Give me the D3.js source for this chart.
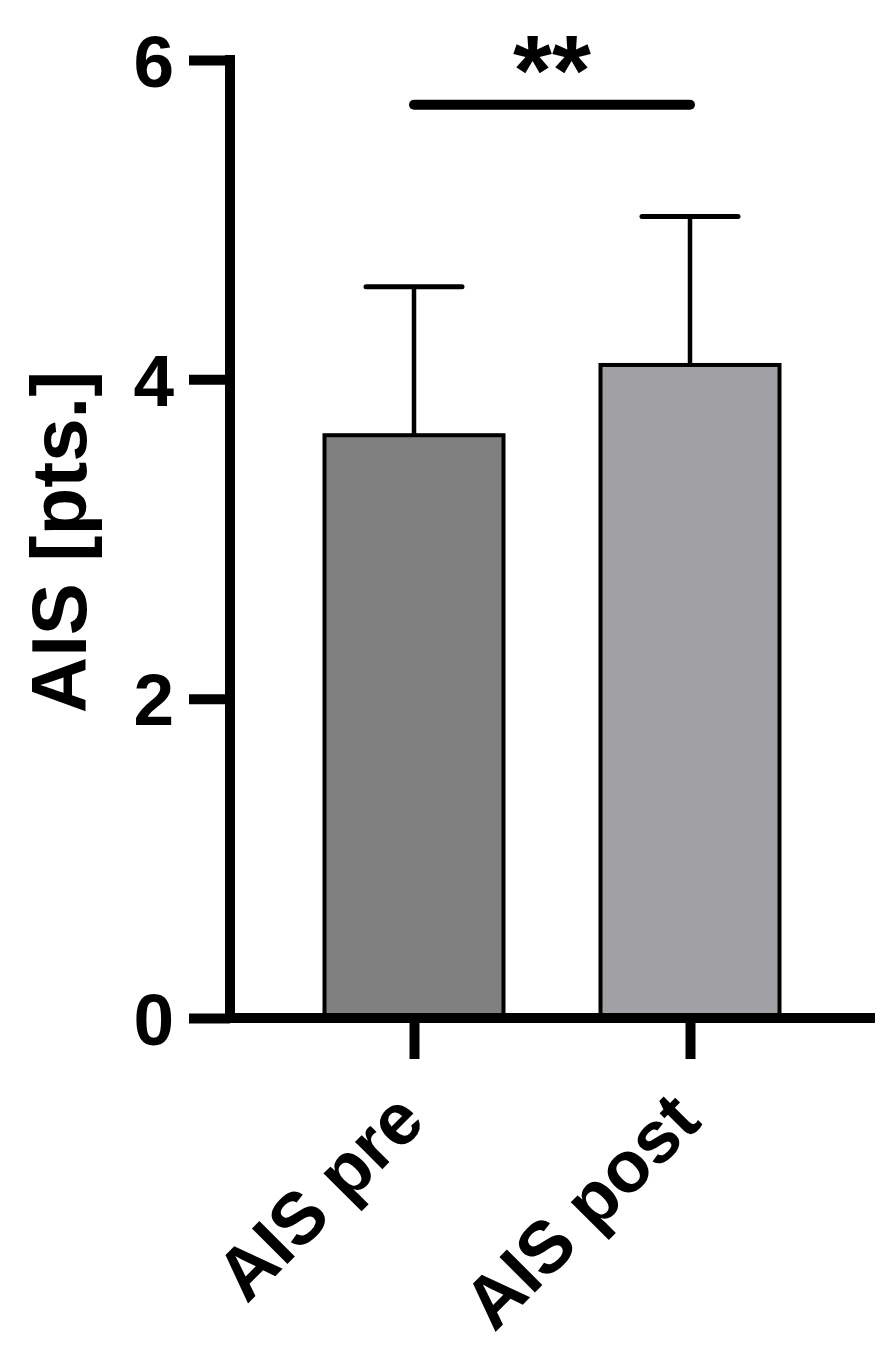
<!DOCTYPE html>
<html>
<head>
<meta charset="utf-8">
<script src="https://cdn.jsdelivr.net/npm/d3@7"></script>
<style>
  html, body { margin: 0; padding: 0; background: #fff; }
  svg text { font-family: "Liberation Sans", Arial, Helvetica, sans-serif; font-weight: bold; fill: #000; }
</style>
</head>
<body>
<svg id="chart" width="893" height="1353"></svg>
<script>
// ---- data ----
const categories = ["AIS pre", "AIS post"];
const means = [3.65, 4.09];
const sds = [0.93, 0.93];
const barColors = ["#808080", "#a1a0a5"];
const yTicks = [0, 2, 4, 6];
const yLabel = "AIS [pts.]";
const sigLevel = 5.72;
const sigText = "**";

// ---- layout ----
const svg = d3.select("#chart");
const axisX = 230, y0 = 1018, yTop = 60;
const y = d3.scaleLinear().domain([0, 6]).range([y0, yTop]);
const x = d3.scalePoint().domain(categories).range([414, 690]);
const barW = 183, capW = 96;
const AXW = 10;

// bars
const g = svg.append("g");
g.selectAll("rect.bar").data(categories).join("rect")
  .attr("class", "bar")
  .attr("x", d => x(d) - barW / 2 + 2)
  .attr("width", barW - 4)
  .attr("y", (d, i) => y(means[i]))
  .attr("height", (d, i) => y(0) - y(means[i]))
  .attr("fill", (d, i) => barColors[i])
  .attr("stroke", "#000")
  .attr("stroke-width", 4);

// error bars (upper only)
g.selectAll("line.err").data(categories).join("line")
  .attr("x1", d => x(d)).attr("x2", d => x(d))
  .attr("y1", (d, i) => y(means[i]))
  .attr("y2", (d, i) => y(means[i] + sds[i]))
  .attr("stroke", "#000").attr("stroke-width", 4.5);
g.selectAll("line.cap").data(categories).join("line")
  .attr("x1", d => x(d) - capW / 2).attr("x2", d => x(d) + capW / 2)
  .attr("y1", (d, i) => y(means[i] + sds[i]))
  .attr("y2", (d, i) => y(means[i] + sds[i]))
  .attr("stroke", "#000").attr("stroke-width", 5).attr("stroke-linecap", "round");

// y axis
const yAxis = d3.axisLeft(y).tickValues(yTicks).tickFormat(d3.format("d"))
  .tickSize(41).tickSizeOuter(0).tickPadding(15);
const gy = svg.append("g").attr("transform", `translate(${axisX},0)`).call(yAxis);
gy.select(".domain").remove();
gy.selectAll(".tick line").attr("stroke", "#000").attr("stroke-width", AXW);
gy.selectAll(".tick text").attr("font-size", 73).attr("dy", "0.36em");
gy.append("line").attr("x1", 0).attr("x2", 0)
  .attr("y1", yTop - AXW / 2).attr("y2", y0 + AXW / 2)
  .attr("stroke", "#000").attr("stroke-width", AXW);

// x axis
const xAxis = d3.axisBottom(x).tickSize(41).tickSizeOuter(0).tickPadding(0);
const gx = svg.append("g").attr("transform", `translate(0,${y0})`).call(xAxis);
gx.select(".domain").remove();
gx.append("line").attr("x1", axisX).attr("x2", 875).attr("y1", 0).attr("y2", 0)
  .attr("stroke", "#000").attr("stroke-width", AXW);
gx.selectAll(".tick line").attr("stroke", "#000").attr("stroke-width", AXW);
gx.selectAll(".tick text")
  .attr("font-size", 73)
  .attr("text-anchor", "end")
  .attr("dy", 0).attr("y", 0)
  .attr("transform", "translate(13,106) rotate(-45)");

// y label
svg.append("text")
  .attr("transform", `translate(86,542) rotate(-90)`)
  .attr("text-anchor", "middle")
  .attr("font-size", 78)
  .text(yLabel);

// significance
svg.append("line")
  .attr("x1", x(categories[0])).attr("x2", x(categories[1]))
  .attr("y1", y(sigLevel)).attr("y2", y(sigLevel))
  .attr("stroke", "#000").attr("stroke-width", 10).attr("stroke-linecap", "round");
svg.append("text")
  .attr("x", (x(categories[0]) + x(categories[1])) / 2)
  .attr("y", 105)
  .attr("text-anchor", "middle")
  .attr("font-size", 100)
  .text(sigText);
</script>
</body>
</html>
